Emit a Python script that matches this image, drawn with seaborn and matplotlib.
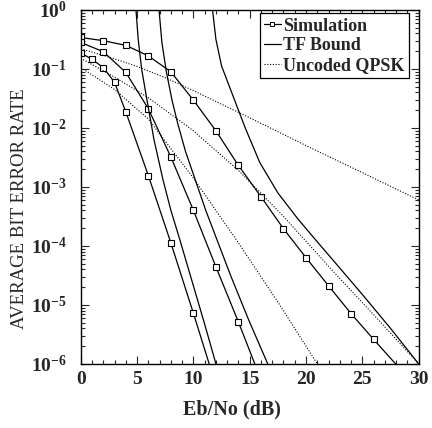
import numpy as np
import pandas as pd
import matplotlib
matplotlib.use('Agg')
import matplotlib.pyplot as plt
import seaborn as sns
from matplotlib.lines import Line2D
from matplotlib.ticker import LogLocator, MultipleLocator, NullFormatter

# ── data ─────────────────────────────────────────────────────
sim1_x = [0, 2, 4, 6, 8, 10, 12, 14, 16, 18, 20, 22, 24, 26, 27.95]
sim1_ber = [0.34, 0.30, 0.25, 0.166, 0.089, 0.0295, 8.9e-3, 2.3e-3, 6.8e-4,
            1.95e-4, 6.3e-5, 2.1e-5, 7.1e-6, 2.6e-6, 1.0e-6]
sim2_x = [0, 2, 4, 6, 8, 10, 12, 14, 15.45]
sim2_ber = [0.28, 0.195, 0.087, 0.021, 3.2e-3, 4.0e-4, 4.4e-5, 5.1e-6, 1.0e-6]
sim3_x = [0, 1, 2, 3, 4, 6, 8, 10, 11.4]
sim3_ber = [0.186, 0.145, 0.105, 0.059, 0.0186, 1.55e-3, 1.12e-4, 7.2e-6, 1.0e-6]

tf1_x = [4.85, 4.9, 5.1, 5.4, 5.9, 6.5, 7.3, 8.0, 8.8, 10.0, 11.0, 12.0]
tf1_ber = [1.41, 1.0, 0.316, 0.1, 0.0282, 6.3e-3, 1.32e-3, 4.0e-4, 1.26e-4,
           2.1e-5, 4.7e-6, 1.0e-6]
tf2_x = [6.9, 6.95, 7.2, 7.6, 8.1, 8.6, 9.3, 10.2, 11.1, 12.1, 13.3, 14.9, 16.6]
tf2_ber = [1.41, 1.0, 0.282, 0.089, 0.0295, 0.012, 3.98e-3, 1.26e-3, 3.98e-4,
           1.26e-4, 3.16e-5, 5.6e-6, 1.0e-6]
tf3_x = [11.65, 11.7, 12.0, 12.5, 13.4, 14.6, 15.9, 17.5, 19.3, 21.0, 23.0,
         25.0, 27.5, 30.0]
tf3_ber = [1.41, 1.0, 0.316, 0.112, 0.0398, 0.01, 2.57e-3, 7.9e-4, 2.82e-4,
           1.17e-4, 4.2e-5, 1.5e-5, 4.0e-6, 1.0e-6]

unc1_x = [0, 2.5, 5, 7.5, 10, 15, 20, 25, 30]
unc1_ber = [0.219, 0.158, 0.110, 0.0708, 0.0427, 0.0148, 5.0e-3, 1.74e-3, 6.0e-4]
unc2_x = [0, 3, 6, 10, 14, 18, 22, 26, 30]
unc2_ber = [0.151, 0.0724, 0.0324, 8.9e-3, 1.9e-3, 3.16e-4, 4.5e-5, 6.8e-6, 1.0e-6]
unc3_x = [0, 3, 6, 10, 14, 17.5, 21.0]
unc3_ber = [0.105, 0.0447, 0.0141, 1.41e-3, 1.12e-4, 1.12e-5, 1.0e-6]

sns.set_style('ticks')
plt.rcParams['font.family'] = ['Liberation Serif', 'DejaVu Serif']
plt.rcParams['mathtext.fontset'] = 'stix'

fig = plt.figure(figsize=(4.32, 4.28), dpi=100)
ax = fig.add_axes([0.187, 0.150, 0.782, 0.827])

# simulation curves: markers on measured points only
for xs, ys in [(sim1_x, sim1_ber), (sim2_x, sim2_ber), (sim3_x, sim3_ber)]:
    sns.lineplot(x=xs, y=ys, ax=ax, color='black', lw=0.9, marker='s',
                 markersize=4.8, markerfacecolor='white', markeredgecolor='black',
                 markeredgewidth=0.8, markevery=list(range(len(xs) - 1)),
                 estimator=None, sort=False)

for xs, ys in [(tf1_x, tf1_ber), (tf2_x, tf2_ber), (tf3_x, tf3_ber)]:
    sns.lineplot(x=xs, y=ys, ax=ax, color='black', lw=0.9,
                 estimator=None, sort=False)

for xs, ys in [(unc1_x, unc1_ber), (unc2_x, unc2_ber), (unc3_x, unc3_ber)]:
    sns.lineplot(x=xs, y=ys, ax=ax, color='black', lw=0.8,
                 linestyle=(0, (1, 1.5)), estimator=None, sort=False)

ax.set_yscale('log')
ax.set_xlim(0, 30)
ax.set_ylim(1e-6, 1)
ax.xaxis.set_major_locator(MultipleLocator(5))
ax.xaxis.set_minor_locator(MultipleLocator(1))
ax.yaxis.set_major_locator(LogLocator(base=10, numticks=10))
ax.yaxis.set_minor_locator(LogLocator(base=10, subs=np.arange(2, 10), numticks=20))
ax.yaxis.set_minor_formatter(NullFormatter())
ax.tick_params(which='both', direction='in', top=True, right=True, width=0.8)
ax.tick_params(which='major', length=6, labelsize=14)
ax.tick_params(axis='x', which='major', pad=5)
ax.tick_params(axis='y', which='major', pad=10)
ax.tick_params(which='minor', length=3)
for lab in ax.get_xticklabels() + ax.get_yticklabels():
    lab.set_fontweight('bold')
for s in ax.spines.values():
    s.set_linewidth(1.0)
    s.set_color('black')

ax.set_xlabel('Eb/No (dB)', fontsize=14.5, fontweight='bold')
ax.set_ylabel('AVERAGE BIT ERROR RATE', fontsize=13.5)
ax.xaxis.set_label_coords(0.448, -0.10)
ax.yaxis.set_label_coords(-0.156, 0.438)

handles = [
    Line2D([], [], color='black', lw=0.9, marker='s', markersize=3,
           markerfacecolor='white', markeredgewidth=0.7),
    Line2D([], [], color='black', lw=0.9),
    Line2D([], [], color='black', lw=0.8, linestyle=(0, (1, 1.5))),
]
leg = ax.legend(handles, ['Simulation', 'TF Bound', 'Uncoded QPSK'],
                loc='upper right', bbox_to_anchor=(0.972, 0.991), borderaxespad=0,
                fancybox=False, edgecolor='black', framealpha=1,
                handlelength=0.9, handletextpad=0.15, borderpad=0.25,
                labelspacing=0.15,
                prop={'family': 'Liberation Serif', 'weight': 'bold', 'size': 13})
leg.get_frame().set_linewidth(0.9)

fig.savefig('out.png', dpi=100)
